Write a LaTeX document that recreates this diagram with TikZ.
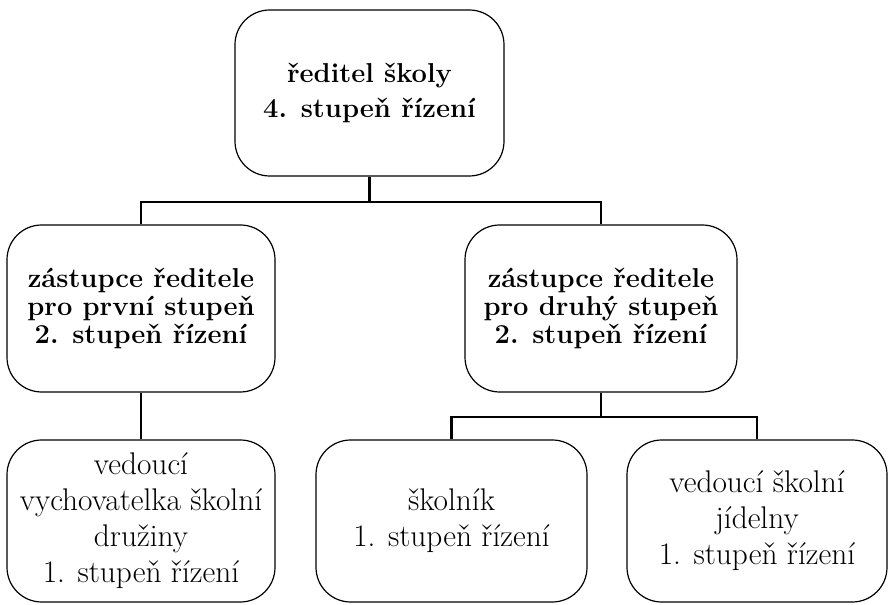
\documentclass[tikz,border=0pt]{standalone}
\usepackage{tikz}
\usetikzlibrary{positioning}

\begin{document}
\begin{tikzpicture}[x=0.75pt, y=-0.75pt,
  box/.style={draw, rounded corners=26pt, align=center, inner sep=0pt, line width=0.9pt},
  boss/.style={box, font=\bfseries\fontsize{20.5}{26}\selectfont},
  deputy/.style={box, font=\bfseries\fontsize{20.5}{21}\selectfont},
  staff/.style={box, font=\fontsize{23.5}{27}\selectfont},
  link/.style={line width=1.6pt}]

\useasboundingbox (0,0) rectangle (893,605);

\node[boss, minimum width=201.75pt, minimum height=124.5pt] (reditel) at (369.5,93) {ředitel školy\\4. stupeň řízení};

\node[deputy, minimum width=201pt, minimum height=125.25pt] (zastupce1) at (141,308.5) {zástupce ředitele\\pro první stupeň\\2. stupeň řízení};
\node[deputy, minimum width=204pt, minimum height=125.25pt] (zastupce2) at (601,308.5) {zástupce ředitele\\pro druhý stupeň\\2. stupeň řízení};

\node[staff, minimum width=201pt, minimum height=121.5pt] (druzina) at (141,521) {vedoucí\\vychovatelka školní\\družiny\\1. stupeň řízení};
\node[staff, minimum width=203.25pt, minimum height=121.5pt] (skolnik) at (451.5,521) {školník\\1. stupeň řízení};
\node[staff, minimum width=195pt, minimum height=121.5pt] (jidelna) at (757,521) {vedoucí školní\\jídelny\\1. stupeň řízení};

% ředitel -> zástupci
\draw[link] (reditel.south) -- ++(0,25) -| (zastupce1.north);
\draw[link] (reditel.south) ++(0,25) -| (zastupce2.north);

% zástupci -> 1. stupeň
\draw[link] (zastupce1.south) -- (druzina.north);
\draw[link] (zastupce2.south) -- ++(0,24) -| (skolnik.north);
\draw[link] (zastupce2.south) ++(0,24) -| (jidelna.north);

\end{tikzpicture}
\end{document}
